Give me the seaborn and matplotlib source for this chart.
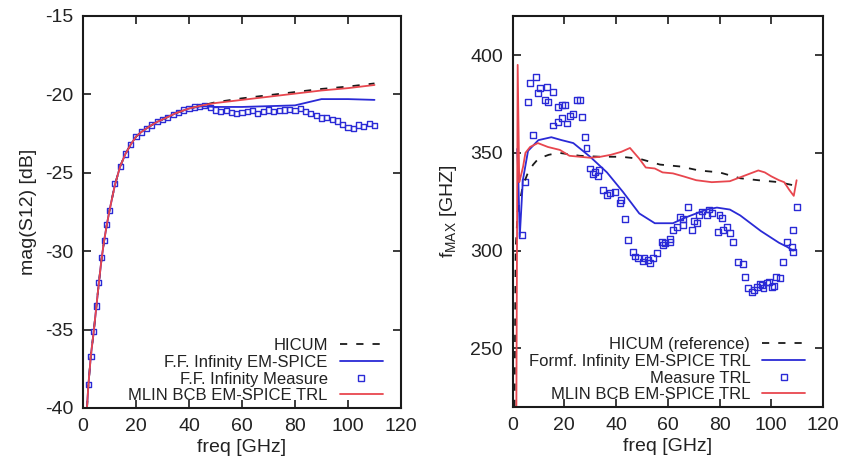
#!/usr/bin/env python3
# plot.py - S12 magnitude and fMAX vs frequency (HICUM / EM-SPICE / measure)

import matplotlib
matplotlib.use('Agg')
import matplotlib.pyplot as plt
from matplotlib.lines import Line2D
import seaborn as sns

# ---- left panel: mag(S12) [dB] ----
freq_sim = [1.5, 2, 3, 4, 5, 6, 7, 8, 9, 10, 12, 14, 16, 18, 20, 22, 25, 28, 30,
            35, 40, 45, 50, 60, 70, 80, 90, 100, 110]
s12_hicum = [-40, -38.6, -36.6, -35.2, -33.6, -32.0, -30.5, -29.3, -28.3, -27.4,
             -25.8, -24.6, -23.8, -23.2, -22.7, -22.4, -22.05, -21.75, -21.6,
             -21.2, -20.9, -20.7, -20.5, -20.25, -20.05, -19.85, -19.65, -19.5, -19.3]
s12_em = [-40, -38.6, -36.6, -35.2, -33.6, -32.0, -30.5, -29.3, -28.3, -27.4,
          -25.8, -24.6, -23.8, -23.2, -22.7, -22.4, -22.05, -21.75, -21.6,
          -21.2, -20.9, -20.75, -20.8, -20.8, -20.75, -20.7, -20.3, -20.3, -20.35]
s12_mlin = [-40, -38.6, -36.6, -35.2, -33.6, -32.0, -30.5, -29.3, -28.3, -27.4,
            -25.8, -24.6, -23.8, -23.2, -22.7, -22.4, -22.05, -21.75, -21.6,
            -21.2, -20.9, -20.7, -20.55, -20.35, -20.15, -19.95, -19.75, -19.6, -19.4]

freq_meas = [2, 3, 4, 5, 6, 7, 8, 9, 10,
             12, 14, 16, 18, 20, 22, 24, 26, 28, 30, 32, 34, 36, 38, 40, 42, 44,
             46, 48, 50, 52, 54, 56, 58, 60, 62, 64, 66, 68, 70, 72, 74, 76, 78,
             80, 82, 84, 86, 88, 90, 92, 94, 96, 98, 100, 102, 104, 106, 108, 110]
s12_meas = [-38.5, -36.7, -35.1, -33.5, -32.0, -30.4, -29.3, -28.3, -27.4,
            -25.7, -24.6, -23.8, -23.2, -22.7, -22.4, -22.15, -21.95, -21.75,
            -21.6, -21.45, -21.3, -21.15, -21.0, -20.9, -20.8, -20.75, -20.7,
            -20.85, -21.0, -21.1, -21.05, -21.15, -21.2, -21.15, -21.1, -21.05,
            -21.2, -21.1, -21.0, -21.1, -21.05, -21.0, -20.95, -21.05, -20.9,
            -21.1, -21.2, -21.35, -21.5, -21.45, -21.6, -21.7, -21.9, -22.1,
            -22.15, -21.95, -22.05, -21.85, -22.0]

# ---- right panel: fMAX [GHz] ----
freq_fmax_hicum = [0.8, 1.2, 2, 4, 6, 8, 10, 14, 18, 26, 34, 42, 49, 57, 65, 72,
                   80, 88, 95, 103, 110]
fmax_hicum = [220, 300, 320, 333, 340, 344, 347, 349, 350, 348.5, 348, 348, 347,
              344, 343, 341, 340, 337, 336, 335, 333]

freq_fmax_em = [1.8, 2.2, 2.8, 4, 6, 10, 15, 19, 23.5, 30, 36.5, 42.7, 49, 55, 62,
                67, 71, 75, 79, 84, 88, 92, 96, 99.5, 103, 106, 108.5]
fmax_em = [352, 340, 307, 336, 351, 356.5, 358, 356.5, 355, 348, 340, 330, 319,
           314, 314, 317, 319, 321, 322, 321, 318, 314, 310, 307, 304, 302, 300]

freq_fmax_mlin = [1.5, 2.0, 2.6, 3.2, 4.1, 5, 6.8, 9.8, 13.7, 18.3, 22, 26, 30, 34,
                  38, 42, 45.4, 49, 51.5, 55, 58, 62, 66, 71, 77, 84, 89, 92, 95,
                  97.5, 100, 103, 105, 107, 108.7, 109.8]
fmax_mlin = [220, 395, 335, 338, 343, 350, 353, 355, 353, 351.5, 348.5, 348, 347.5,
             348, 349, 350.5, 352.5, 347, 342.5, 342, 340, 339.5, 338, 336, 335,
             335.5, 338, 339.5, 341, 340, 338, 336, 335, 331, 328, 336]

freq_fmax_meas = [3.7, 4.8, 6.0, 6.8, 7.9, 9.1, 9.8, 10.6, 12.5, 13.2,
                  13.7, 15.6, 15.6, 17.5, 17.5, 19.0, 19.0, 20.3, 21.0, 22.2,
                  23.4, 24.8, 26.0, 26.7, 28.0, 28.6, 30.0, 31.0, 31.8, 33.0,
                  33.5, 35.0, 36.4, 37.6, 39.6, 41.5, 42.0, 43.4, 44.6, 46.5,
                  47.5, 48.5, 50.4, 51.0, 52.3, 53.0, 54.3, 55.7, 57.7, 58.0,
                  58.9, 60.8, 61.0, 62.0, 63.5, 64.7, 65.8, 66.0, 67.8, 69.3,
                  70.0, 71.2, 72.0, 73.2, 75.0, 76.0, 77.0, 79.4, 80.0, 81.0,
                  81.3, 83.0, 84.0, 85.2, 87.0, 89.0, 89.8, 91.0, 92.5, 93.5,
                  94.4, 95.5, 96.3, 97.0, 98.3, 99.0, 100.2, 101.0, 102.0, 103.3,
                  104.4, 106.0, 108.0, 108.4, 108.4, 109.8]
fmax_meas = [308, 335, 376, 385.7, 359, 389, 380.6, 383, 377, 383.7,
             376, 381, 364, 373.5, 366, 374.5, 368, 374.5, 365, 369,
             370, 377, 377, 368.5, 358, 352.6, 342, 339, 340, 338,
             341, 331, 328.6, 329.6, 330, 324.5, 326, 316, 305.6, 299.5,
             297, 296.4, 294.4, 296, 295.4, 293.5, 296.4, 299, 304.6, 303,
             304, 304.6, 306, 310.7, 312, 317, 313, 316, 322.4, 310.7,
             315, 314, 318, 320, 318.4, 321, 319.4, 309.7, 318, 316.8,
             310.7, 312, 309, 304.6, 294, 293, 286.7, 281, 279, 280,
             281.6, 283, 282.6, 281, 283.7, 284, 281.6, 282, 286.7, 286,
             294, 304.6, 302, 299.5, 310.7, 322.4]

# Style
sns.set_theme(style='ticks')
plt.rcParams['font.family'] = ['Liberation Sans', 'DejaVu Sans']
plt.rcParams['mathtext.fontset'] = 'custom'
plt.rcParams['mathtext.rm'] = 'Liberation Sans'
plt.rcParams['mathtext.it'] = 'Liberation Sans'
plt.rcParams['axes.unicode_minus'] = False

BLUE = '#2a2ad6'
RED = '#e8464e'
BLACK = '#1a1a1a'
TXT = '#222222'
DASH = (0, (4, 5))


def style_axes(ax, ylim, yticks):
    ax.set_xlim(0, 120)
    ax.set_ylim(*ylim)
    ax.set_xticks(range(0, 121, 20))
    ax.set_yticks(yticks)
    ax.tick_params(direction='in', top=True, right=True, length=6, width=1.2,
                   labelsize=14, pad=7, colors=BLACK, labelcolor=TXT)
    for s in ax.spines.values():
        s.set_linewidth(1.5)
        s.set_color(BLACK)
    ax.set_xlabel('freq [GHz]', fontsize=14, color=TXT, labelpad=3)


def add_legend(ax, labels):
    # proxy handles so the measure square sits centred like gnuplot's key
    handles = [
        Line2D([], [], color=BLACK, lw=1.3, linestyle=DASH),
        Line2D([], [], color=BLUE, lw=1.3),
        Line2D([], [], color=BLUE, marker='s', ms=4, mfc='none', mew=1.0, ls='none'),
        Line2D([], [], color=RED, lw=1.3),
    ]
    leg = ax.legend(handles, labels, loc='lower right', bbox_to_anchor=(0.943, 0.012),
                    frameon=False, markerfirst=False, fontsize=12, numpoints=1,
                    handlelength=2.6, handletextpad=0.7, labelspacing=0.1,
                    borderpad=0, borderaxespad=0)
    for t in leg.get_texts():
        t.set_color(TXT)
    # gnuplot style: labels right aligned against the samples
    for col in leg._legend_handle_box.get_children():
        col.align = 'right'
    return leg


fig = plt.figure(figsize=(8.56, 4.63), dpi=100)
ax1 = fig.add_axes([83 / 856, 1 - 408 / 463, 318 / 856, 392 / 463])
ax2 = fig.add_axes([512.5 / 856, 1 - 407 / 463, 310.5 / 856, 391 / 463])

# left: mag(S12)
sns.lineplot(x=freq_sim, y=s12_hicum, ax=ax1, color=BLACK, lw=1.3, linestyle=DASH,
             sort=False, estimator=None)
sns.lineplot(x=freq_sim, y=s12_em, ax=ax1, color=BLUE, lw=1.3,
             sort=False, estimator=None)
sns.scatterplot(x=freq_meas, y=s12_meas, ax=ax1, marker='s', s=14,
                facecolor='none', edgecolor=BLUE, linewidth=1.0)
sns.lineplot(x=freq_sim, y=s12_mlin, ax=ax1, color=RED, lw=1.3,
             sort=False, estimator=None)
style_axes(ax1, (-40, -15), range(-40, -14, 5))
ax1.set_ylabel('mag(S12) [dB]', fontsize=14, color=TXT, labelpad=6)
add_legend(ax1, ['HICUM', 'F.F. Infinity EM-SPICE', 'F.F. Infinity Measure',
                 'MLIN BCB EM-SPICE TRL'])

# right: fMAX
sns.lineplot(x=freq_fmax_hicum, y=fmax_hicum, ax=ax2, color=BLACK, lw=1.3,
             linestyle=DASH, sort=False, estimator=None)
sns.lineplot(x=freq_fmax_em, y=fmax_em, ax=ax2, color=BLUE, lw=1.3,
             sort=False, estimator=None)
sns.scatterplot(x=freq_fmax_meas, y=fmax_meas, ax=ax2, marker='s', s=18,
                facecolor='none', edgecolor=BLUE, linewidth=1.0)
sns.lineplot(x=freq_fmax_mlin, y=fmax_mlin, ax=ax2, color=RED, lw=1.3,
             sort=False, estimator=None)
style_axes(ax2, (220, 420), [250, 300, 350, 400])
ax2.set_ylabel(r'f$_{\mathrm{MAX}}$ [GHZ]', fontsize=14, color=TXT, labelpad=8)
add_legend(ax2, ['HICUM (reference)', 'Formf. Infinity EM-SPICE TRL', 'Measure TRL',
                 'MLIN BCB EM-SPICE TRL'])

fig.savefig('out.png', dpi=100)
